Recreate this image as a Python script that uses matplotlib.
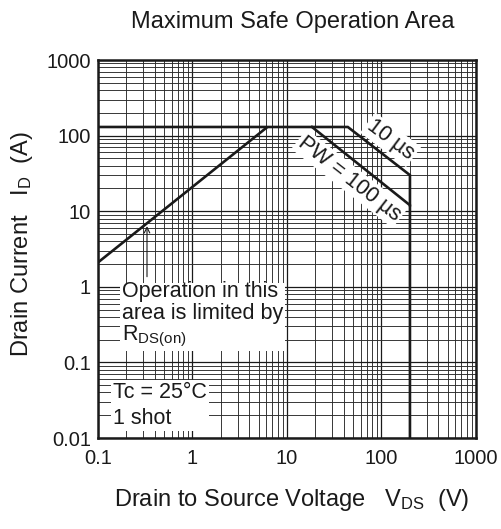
import numpy as np
import matplotlib
matplotlib.use("Agg")
import matplotlib.pyplot as plt
from matplotlib.ticker import LogLocator, NullFormatter, FixedLocator

"""
Maximum Safe Operation Area chart (log-log SOA plot)
"""

plt.rcParams['font.family'] = ['Liberation Sans', 'DejaVu Sans']
plt.rcParams['mathtext.fontset'] = 'custom'
plt.rcParams['mathtext.rm'] = 'Liberation Sans'
plt.rcParams['mathtext.it'] = 'Liberation Sans'

# Axis ticks
x_ticks = [0.1, 1, 10, 100, 1000]
x_tick_labels = ["0.1", "1", "10", "100", "1000"]
y_ticks = [0.01, 0.1, 1, 10, 100, 1000]
y_tick_labels = ["0.01", "0.1", "1", "10", "100", "1000"]

# R_DS(on) limited line
rds_v = [0.1, 6.2]
rds_i = [2.1, 130]
# Current limit + PW = 10 us boundary
pw10_v = [0.1, 44, 200, 200]
pw10_i = [130, 130, 30, 12]
# PW = 100 us boundary
pw100_v = [18.4, 200, 200]
pw100_i = [130, 12, 0.01]

INK = "#1a1a1a"

fig = plt.figure(figsize=(5.02, 5.29), dpi=100)
ax = fig.add_axes([98 / 502, 1 - 438 / 529, 378 / 502, 378 / 529])
ax.set_xscale("log")
ax.set_yscale("log")
ax.set_xlim(0.1, 1000)
ax.set_ylim(0.01, 1000)

# Grid
ax.xaxis.set_major_locator(FixedLocator(x_ticks))
ax.yaxis.set_major_locator(FixedLocator(y_ticks))
ax.xaxis.set_minor_locator(LogLocator(base=10, subs=np.arange(2, 10), numticks=20))
ax.yaxis.set_minor_locator(LogLocator(base=10, subs=np.arange(2, 10), numticks=20))
ax.xaxis.set_minor_formatter(NullFormatter())
ax.yaxis.set_minor_formatter(NullFormatter())
ax.set_xticklabels(x_tick_labels)
ax.set_yticklabels(y_tick_labels)
ax.grid(True, which="major", color=INK, linewidth=0.9)
ax.grid(True, which="minor", color="#2a2a2a", linewidth=0.65)
ax.tick_params(which="both", length=0, labelsize=14.5, colors=INK)
ax.tick_params(axis="x", pad=8)
ax.tick_params(axis="y", pad=5)
for s in ax.spines.values():
    s.set_linewidth(1.8)
    s.set_color(INK)
ax.set_axisbelow(True)

# Curves
ax.plot(rds_v, rds_i, color=INK, linewidth=1.9, solid_capstyle="butt", zorder=3)
ax.plot(pw10_v, pw10_i, color=INK, linewidth=1.9, solid_joinstyle="miter", zorder=3)
ax.plot(pw100_v, pw100_i, color=INK, linewidth=1.9, solid_joinstyle="miter", zorder=3)

box = dict(facecolor="white", edgecolor="none", pad=1.5)

ax.text(125, 88, "10 µs", rotation=-37, fontsize=15.5, color=INK,
        ha="center", va="center", rotation_mode="anchor", bbox=box, zorder=4)
ax.text(46, 27, "PW = 100 µs", rotation=-38, fontsize=15.5, color=INK,
        ha="center", va="center", rotation_mode="anchor", bbox=box, zorder=4)

ax.text(0.063, 0.415, "Operation in this\narea is limited by\nR$_{\\mathrm{DS(on)}}$",
        transform=ax.transAxes, fontsize=15.5, color=INK, ha="left", va="top",
        linespacing=1.03, bbox=box, zorder=4)
ax.annotate("", xy=(0.33, 6.9), xytext=(0.33, 1.25),
            arrowprops=dict(arrowstyle="->", color=INK, lw=0.8), zorder=4)

ax.text(0.04, 0.148, "Tc = 25°C\n1 shot", transform=ax.transAxes,
        fontsize=15.5, color=INK, ha="left", va="top", linespacing=1.3,
        bbox=box, zorder=4)

fig.text(0.584, 0.958, "Maximum Safe Operation Area", fontsize=17,
         color=INK, ha="center", va="center")
fig.text(0.582, 0.055, "Drain to Source Voltage   V$_{\\mathrm{DS}}$  (V)",
         fontsize=17, color=INK, ha="center", va="center")
fig.text(0.044, 0.539, "Drain Current   I$_{\\mathrm{D}}$  (A)", fontsize=17,
         color=INK, ha="center", va="center", rotation=90)

fig.savefig("out.png", dpi=100)
